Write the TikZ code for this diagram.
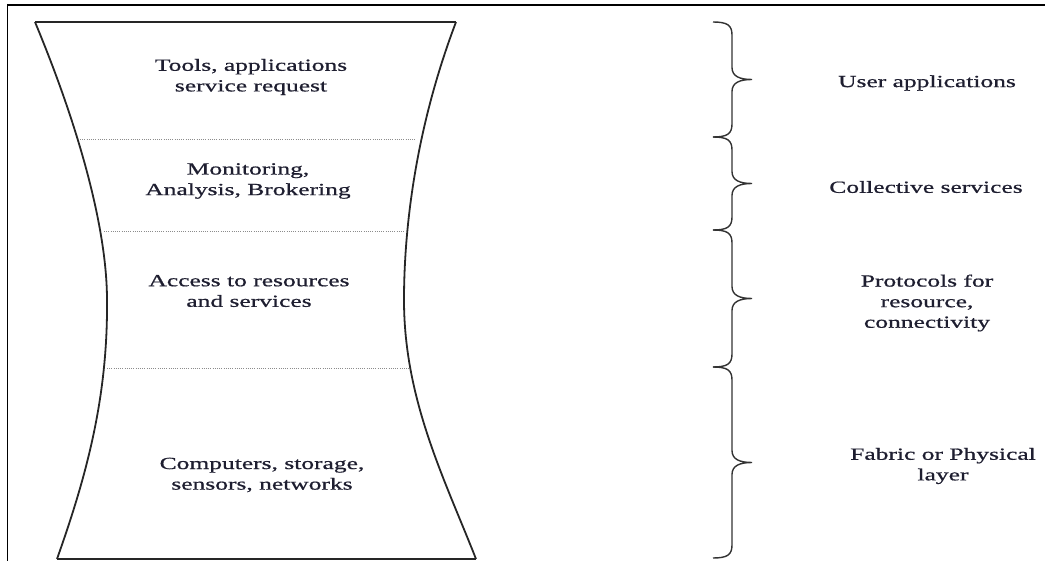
\documentclass[tikz,border=0pt]{standalone}
\usepackage{fontspec}
\setmainfont{Liberation Serif}[FakeStretch=1.5,FakeBold=0.8]
\definecolor{txt}{RGB}{30,30,48}
\begin{document}
\begin{tikzpicture}[x=1pt,y=-1pt,
  lbl/.style={align=center,inner sep=0pt,text=txt,font=\fontsize{17}{20.6}\selectfont},
  edge/.style={line width=1.8pt,draw=black!85},
  sepline/.style={draw=black!45,line width=0.6pt,dash pattern=on 1pt off 1.2pt},
  brc/.style={line width=1.4pt,draw=black!80},
  frameline/.style={draw=black}]
\useasboundingbox (0,0) rectangle (1045,561);
% frame
\draw[frameline,line width=2.2pt] (7,5) -- (1045,5);
\draw[frameline,line width=1.6pt] (7.5,4) -- (7.5,561);
% funnel
\coordinate (tl) at (35,22);
\coordinate (tr) at (456,22);
\coordinate (bl) at (57,559);
\coordinate (br) at (476,559);
\coordinate (wl) at (107,300);
\coordinate (wr) at (404,300);
\draw[edge] (tl) -- (tr);
\draw[edge] (bl) -- (br);
\draw[edge] (tl) .. controls (80,130) and (107,230) .. (wl) .. controls (108,400) and (85,480) .. (bl);
\draw[edge] (tr) .. controls (415,130) and (404,230) .. (wr) .. controls (404,400) and (445,480) .. (br);
% separators
\coordinate (s1l) at (80,139); \coordinate (s1r) at (416,139);
\coordinate (s2l) at (104,231); \coordinate (s2r) at (405,231);
\coordinate (s3l) at (107,368); \coordinate (s3r) at (409,368);
\draw[sepline] (s1l) -- (s1r);
\draw[sepline] (s2l) -- (s2r);
\draw[sepline] (s3l) -- (s3r);
% layer texts
\node[lbl] (t1) at (251,77) {Tools, applications\\service request};
\node[lbl] (t2) at (248,181) {Monitoring,\\Analysis, Brokering};
\node[lbl] (t3) at (249,291) {Access to resources\\and services};
\node[lbl] (t4) at (262,475) {Computers, storage,\\sensors, networks};
% braces
\foreach \a/\b in {22/137,137/230,230/367,367/558}{
  \pgfmathsetmacro\m{(\a+\b)/2}
  \draw[brc] (713,\a) .. controls (727,\a) and (732,{\a+3}) .. (732,{\a+13})
    -- (732,{\m-12}) .. controls (732,{\m-3}) and (740,\m) .. (752,\m)
    .. controls (740,\m) and (732,{\m+3}) .. (732,{\m+12})
    -- (732,{\b-13}) .. controls (732,{\b-3}) and (727,\b) .. (713,\b);
}
% right labels
\node[lbl] (r1) at (927,83) {User applications};
\node[lbl] (r2) at (926,187) {Collective services};
\node[lbl] (r3) at (927,303) {Protocols for\\resource,\\connectivity};
\node[lbl] (r4) at (943,466) {Fabric or Physical\\layer};
\end{tikzpicture}
\end{document}
